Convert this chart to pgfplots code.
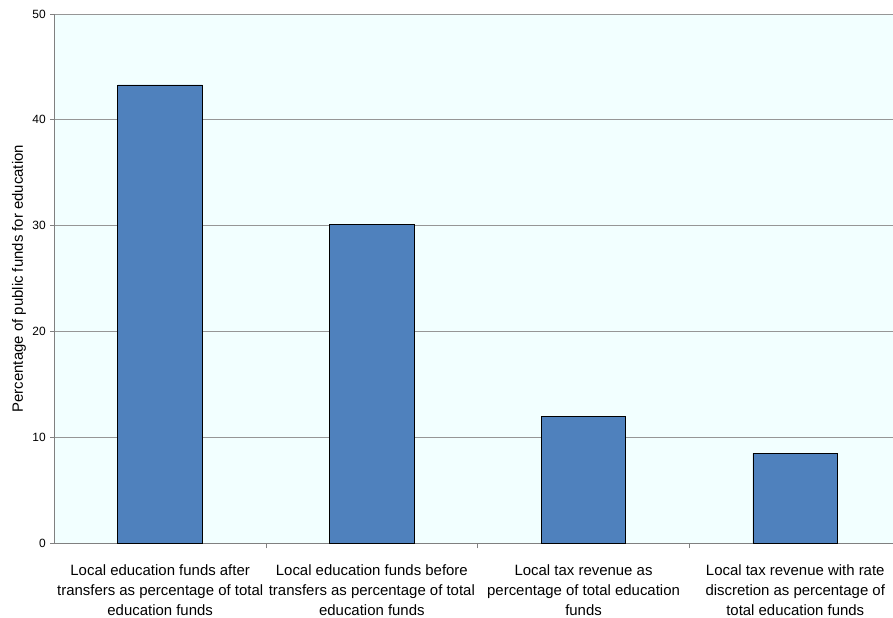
\documentclass[border=0pt]{standalone}
\usepackage{fontspec}
\setmainfont{Liberation Sans}
\usepackage{pgfplots}
\pgfplotsset{compat=1.18}
\definecolor{bgc}{RGB}{242,255,255}
\definecolor{barc}{RGB}{79,129,189}
\definecolor{gridc}{RGB}{150,150,150}
\definecolor{axc}{RGB}{128,128,128}
\begin{document}
\begin{tikzpicture}
\useasboundingbox (0,0) rectangle (893bp,618bp);
\begin{axis}[
  at={(54.3bp,74.7bp)}, anchor=south west,
  scale only axis, width=846.8bp, height=529.3bp,
  xmin=-0.5, xmax=3.5, ymin=0, ymax=50,
  axis x line*=bottom, axis y line*=left,
  axis line style={draw=axc, line width=0.8bp},
  axis background/.style={fill=bgc},
  ytick={0,10,...,50},
  ymajorgrids, grid style={draw=gridc, line width=0.8bp},
  xtick={0,1,2,3},
  xticklabels={{Local education funds after\\transfers as percentage of total\\education funds},
               {Local education funds before\\transfers as percentage of total\\education funds},
               {Local tax revenue as\\percentage of total education\\funds},
               {Local tax revenue with rate\\discretion as percentage of\\total education funds}},
  major x tick style={draw=none},
  minor xtick={0.5,1.5,2.5},
  minor x tick style={draw=axc, line width=0.8bp},
  minor tick length=5bp,
  major tick length=4bp,
  tick align=outside,
  ytick style={draw=axc, line width=0.8bp},
  xtick pos=bottom, ytick pos=left,
  /pgf/number format/assume math mode=true,
  yticklabel style={font=\fontsize{12}{14}\selectfont, xshift=-1bp},
  xticklabel style={font=\fontsize{15}{20.2}\selectfont, align=center, anchor=north, yshift=-14bp},
  ylabel={Percentage of public funds for education},
  ylabel style={font=\fontsize{15}{18}\selectfont, at={(axis description cs:-0.0417,0.5)}, anchor=center},
]
\addplot[ybar, bar width=0.4, fill=barc, draw=black, line width=0.8bp] coordinates {
  (0,43.3) (1,30.1) (2,12.0) (3,8.5)
};
\end{axis}
\end{tikzpicture}
\end{document}
